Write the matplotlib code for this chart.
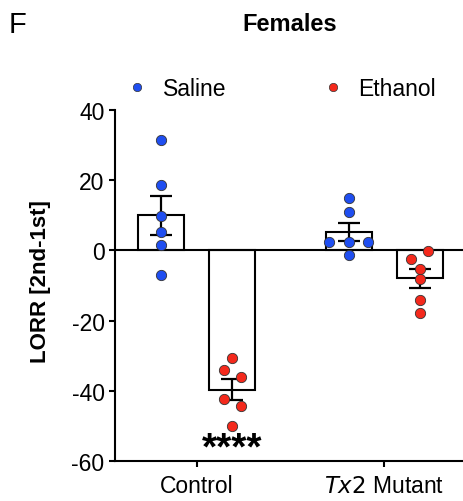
import numpy as np
import matplotlib
matplotlib.use("Agg")
import matplotlib.pyplot as plt
from matplotlib.lines import Line2D

plt.rcParams['font.family'] = ['Liberation Sans', 'DejaVu Sans']
plt.rcParams['axes.unicode_minus'] = False

groups = ["Control", "$\\it{Tx2}$ Mutant"]
treatments = ["Saline", "Ethanol"]

# LORR difference values
control_saline = [31.5, 18.5, 9.9, 5.1, 1.6, -6.9]
control_ethanol = [-30.7, -34.2, -36.2, -42.4, -44.3, -50.1]
mutant_saline = [14.9, 11.0, 2.4, 2.4, 2.4, -1.2]
mutant_ethanol = [-0.2, -2.4, -5.3, -8.1, -14.1, -17.8]

# horizontal scatter of the dots (as drawn)
jit_cs = [0, 0, 0, 0, 0, 0]
jit_ce = [0, -0.045, 0.045, -0.045, 0.045, 0]
jit_ms = [0, 0, -0.104, 0, 0.104, 0]
jit_me = [0.044, -0.045, 0, 0, 0, 0]

blue = '#1f4ef0'
red = '#f4291c'

fig = plt.figure(figsize=(4.63, 5.02), dpi=100)
ax = fig.add_axes([0.2484, 0.0797, 0.7516, 0.6992])

off = 0.19
width = 0.245
series = [
    (0 - off, control_saline, jit_cs, blue),
    (0 + off, control_ethanol, jit_ce, red),
    (1 - off, mutant_saline, jit_ms, blue),
    (1 + off, mutant_ethanol, jit_me, red),
]

for x, vals, jit, col in series:
    v = np.array(vals)
    m = v.mean()
    sem = v.std(ddof=1) / np.sqrt(len(v))
    ax.bar(x, m, width=width, color='white', edgecolor='black', linewidth=1.5, zorder=2)
    ax.errorbar(x, m, yerr=sem, color='black', capsize=8, elinewidth=1.6,
                capthick=1.6, zorder=3)
    ax.scatter(x + np.array(jit), v, s=55, color=col, edgecolor='#333333',
               linewidth=0.6, zorder=4)

ax.axhline(0, color='black', lw=1.5, zorder=2.5)

ax.set_xlim(-0.435, 1.42)
ax.set_ylim(-60, 40)
ax.set_yticks([-60, -40, -20, 0, 20, 40])
ax.set_xticks([0, 1])
ax.set_xticklabels(groups)
ax.tick_params(axis='both', labelsize=16.5, width=1.5, length=4.5, direction='out')
ax.tick_params(axis='y', pad=3)
ax.tick_params(axis='x', pad=5)
for s in ['top', 'right']:
    ax.spines[s].set_visible(False)
for s in ['left', 'bottom']:
    ax.spines[s].set_linewidth(1.5)

ax.set_ylabel("LORR [2nd-1st]", fontsize=16, fontweight='bold')
ax.yaxis.set_label_coords(-0.184, 0.515)

ax.text(0 + off, -56.5, "****", ha='center', va='center', fontsize=28,
        fontweight='bold')

handles = [Line2D([], [], marker='o', ls='', color=c, markeredgecolor='#333333',
                  markeredgewidth=0.5, markersize=6) for c in (blue, red)]
fig.legend(handles, treatments, loc='center left', bbox_to_anchor=(0.257, 0.821),
           ncol=2, frameon=False, fontsize=16.5, handletextpad=0.8,
           columnspacing=4.35, handlelength=0.6, borderpad=0)

fig.text(0.626, 0.952, "Females", ha='center', va='center', fontsize=17,
         fontweight='bold')
fig.text(0.018, 0.95, "F", ha='left', va='center', fontsize=21)

fig.savefig("out.png", dpi=100)
